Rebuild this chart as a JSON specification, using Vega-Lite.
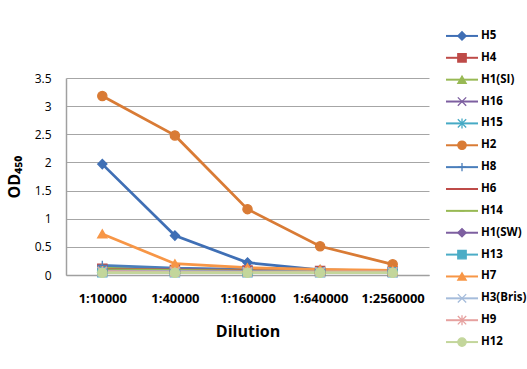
{
  "$schema": "https://vega.github.io/schema/vega-lite/v6.json",
  "background": "white",
  "padding": {"left": 6, "top": 25, "right": 0, "bottom": 0},
  "spacing": 16,
  "config": {"view": {"stroke": null}, "font": "Open Sans"},
  "datasets": {
    "od": [
      {"series": "H5", "dilution": "1:10000", "od": 1.97},
      {"series": "H5", "dilution": "1:40000", "od": 0.70},
      {"series": "H5", "dilution": "1:160000", "od": 0.22},
      {"series": "H5", "dilution": "1:640000", "od": 0.09},
      {"series": "H5", "dilution": "1:2560000", "od": 0.07},
      {"series": "H4", "dilution": "1:10000", "od": 0.11},
      {"series": "H4", "dilution": "1:40000", "od": 0.09},
      {"series": "H4", "dilution": "1:160000", "od": 0.08},
      {"series": "H4", "dilution": "1:640000", "od": 0.07},
      {"series": "H4", "dilution": "1:2560000", "od": 0.06},
      {"series": "H1(SI)", "dilution": "1:10000", "od": 0.12},
      {"series": "H1(SI)", "dilution": "1:40000", "od": 0.10},
      {"series": "H1(SI)", "dilution": "1:160000", "od": 0.09},
      {"series": "H1(SI)", "dilution": "1:640000", "od": 0.08},
      {"series": "H1(SI)", "dilution": "1:2560000", "od": 0.07},
      {"series": "H16", "dilution": "1:10000", "od": 0.09},
      {"series": "H16", "dilution": "1:40000", "od": 0.08},
      {"series": "H16", "dilution": "1:160000", "od": 0.07},
      {"series": "H16", "dilution": "1:640000", "od": 0.06},
      {"series": "H16", "dilution": "1:2560000", "od": 0.06},
      {"series": "H15", "dilution": "1:10000", "od": 0.08},
      {"series": "H15", "dilution": "1:40000", "od": 0.07},
      {"series": "H15", "dilution": "1:160000", "od": 0.06},
      {"series": "H15", "dilution": "1:640000", "od": 0.06},
      {"series": "H15", "dilution": "1:2560000", "od": 0.05},
      {"series": "H2", "dilution": "1:10000", "od": 3.18},
      {"series": "H2", "dilution": "1:40000", "od": 2.48},
      {"series": "H2", "dilution": "1:160000", "od": 1.17},
      {"series": "H2", "dilution": "1:640000", "od": 0.51},
      {"series": "H2", "dilution": "1:2560000", "od": 0.19},
      {"series": "H8", "dilution": "1:10000", "od": 0.17},
      {"series": "H8", "dilution": "1:40000", "od": 0.12},
      {"series": "H8", "dilution": "1:160000", "od": 0.10},
      {"series": "H8", "dilution": "1:640000", "od": 0.08},
      {"series": "H8", "dilution": "1:2560000", "od": 0.07},
      {"series": "H6", "dilution": "1:10000", "od": 0.10},
      {"series": "H6", "dilution": "1:40000", "od": 0.09},
      {"series": "H6", "dilution": "1:160000", "od": 0.08},
      {"series": "H6", "dilution": "1:640000", "od": 0.07},
      {"series": "H6", "dilution": "1:2560000", "od": 0.06},
      {"series": "H14", "dilution": "1:10000", "od": 0.09},
      {"series": "H14", "dilution": "1:40000", "od": 0.08},
      {"series": "H14", "dilution": "1:160000", "od": 0.07},
      {"series": "H14", "dilution": "1:640000", "od": 0.07},
      {"series": "H14", "dilution": "1:2560000", "od": 0.06},
      {"series": "H1(SW)", "dilution": "1:10000", "od": 0.07},
      {"series": "H1(SW)", "dilution": "1:40000", "od": 0.06},
      {"series": "H1(SW)", "dilution": "1:160000", "od": 0.06},
      {"series": "H1(SW)", "dilution": "1:640000", "od": 0.05},
      {"series": "H1(SW)", "dilution": "1:2560000", "od": 0.05},
      {"series": "H13", "dilution": "1:10000", "od": 0.05},
      {"series": "H13", "dilution": "1:40000", "od": 0.05},
      {"series": "H13", "dilution": "1:160000", "od": 0.05},
      {"series": "H13", "dilution": "1:640000", "od": 0.05},
      {"series": "H13", "dilution": "1:2560000", "od": 0.05},
      {"series": "H7", "dilution": "1:10000", "od": 0.73},
      {"series": "H7", "dilution": "1:40000", "od": 0.20},
      {"series": "H7", "dilution": "1:160000", "od": 0.13},
      {"series": "H7", "dilution": "1:640000", "od": 0.10},
      {"series": "H7", "dilution": "1:2560000", "od": 0.08},
      {"series": "H3(Bris)", "dilution": "1:10000", "od": 0.06},
      {"series": "H3(Bris)", "dilution": "1:40000", "od": 0.06},
      {"series": "H3(Bris)", "dilution": "1:160000", "od": 0.05},
      {"series": "H3(Bris)", "dilution": "1:640000", "od": 0.05},
      {"series": "H3(Bris)", "dilution": "1:2560000", "od": 0.05},
      {"series": "H9", "dilution": "1:10000", "od": 0.06},
      {"series": "H9", "dilution": "1:40000", "od": 0.05},
      {"series": "H9", "dilution": "1:160000", "od": 0.05},
      {"series": "H9", "dilution": "1:640000", "od": 0.05},
      {"series": "H9", "dilution": "1:2560000", "od": 0.05},
      {"series": "H12", "dilution": "1:10000", "od": 0.04},
      {"series": "H12", "dilution": "1:40000", "od": 0.04},
      {"series": "H12", "dilution": "1:160000", "od": 0.04},
      {"series": "H12", "dilution": "1:640000", "od": 0.04},
      {"series": "H12", "dilution": "1:2560000", "od": 0.04}
    ],
    "series": [
      {"series": "H5"}, {"series": "H4"}, {"series": "H1(SI)"}, {"series": "H16"}, {"series": "H15"},
      {"series": "H2"}, {"series": "H8"}, {"series": "H6"}, {"series": "H14"}, {"series": "H1(SW)"},
      {"series": "H13"}, {"series": "H7"}, {"series": "H3(Bris)"}, {"series": "H9"}, {"series": "H12"}
    ],
    "blank": [{"label": ""}]
  },
  "hconcat": [
    {
      "spacing": 0,
      "vconcat": [
        {
          "width": 363,
          "height": 47,
          "data": {"name": "blank"},
          "mark": {"type": "text"},
          "encoding": {"text": {"field": "label"}}
        },
        {
          "width": 363,
          "height": 197,
          "data": {"name": "od"},
          "encoding": {
            "x": {
              "field": "dilution", "type": "ordinal",
              "sort": ["1:10000", "1:40000", "1:160000", "1:640000", "1:2560000"],
              "scale": {"type": "point", "padding": 0.5},
              "axis": {
                "title": "Dilution", "titleFontSize": 16, "titleFontWeight": "bold", "titleColor": "black", "titlePadding": 18,
                "labelAngle": 0, "labelFontSize": 13, "labelFontWeight": "bold", "labelColor": "black", "labelPadding": 17,
                "ticks": false, "grid": false, "domainColor": "#A0A0A0", "domainWidth": 1.5
              }
            },
            "y": {
              "field": "od", "type": "quantitative",
              "scale": {"domain": [0, 3.5], "nice": false, "zero": true},
              "axis": {
                "title": "OD₄₅₀", "titleFontSize": 16, "titleFontWeight": "bold", "titleColor": "black", "titlePadding": 12,
                "values": [0, 0.5, 1, 1.5, 2, 2.5, 3, 3.5], "format": "~g",
                "labelFontSize": 12, "labelColor": "black", "labelPadding": 15,
                "ticks": false, "grid": true, "gridColor": "#A6A6A6", "gridWidth": 1,
                "domainColor": "#A0A0A0", "domainWidth": 1.5
              }
            },
            "color": {
              "field": "series", "type": "nominal", "legend": null,
              "scale": {
                "domain": ["H5", "H4", "H1(SI)", "H16", "H15", "H2", "H8", "H6", "H14", "H1(SW)", "H13", "H7", "H3(Bris)", "H9", "H12"],
                "range": ["#3F6FB5", "#BE4B48", "#98B954", "#7D5FA0", "#46AAC5", "#D97B35", "#4A7EBB", "#BE4B48", "#98B954", "#7D5FA0", "#4BACC6", "#F79646", "#A5BCDB", "#E6A19F", "#C3D69B"]
              }
            }
          },
          "layer": [
            {
              "mark": {"type": "line", "strokeWidth": 2.75},
              "encoding": {"order": {"value": null}}
            },
            {
              "mark": {"type": "point", "filled": true, "size": 85, "strokeWidth": 1.3, "opacity": 1},
              "encoding": {
                "shape": {
                  "field": "series", "type": "nominal", "legend": null,
                  "scale": {
                    "domain": ["H5", "H4", "H1(SI)", "H16", "H15", "H2", "H8", "H6", "H14", "H1(SW)", "H13", "H7", "H3(Bris)", "H9", "H12"],
                    "range": ["diamond", "square", "triangle-up", "M-1,-1L1,1M-1,1L1,-1", "M-1,-1L1,1M-1,1L1,-1M0,-1.2L0,1.2", "circle", "M-1,0L1,0M0,-1L0,1", "M-0.6,0L0.6,0", "M-0.6,0L0.6,0", "diamond", "square", "triangle-up", "M-1,-1L1,1M-1,1L1,-1", "M-1,-1L1,1M-1,1L1,-1M0,-1.2L0,1.2", "circle"]
                  }
                },
                "stroke": {
                  "field": "series", "type": "nominal", "legend": null,
                  "scale": {
                    "domain": ["H5", "H4", "H1(SI)", "H16", "H15", "H2", "H8", "H6", "H14", "H1(SW)", "H13", "H7", "H3(Bris)", "H9", "H12"],
                    "range": ["#3F6FB5", "#BE4B48", "#98B954", "#7D5FA0", "#46AAC5", "#D97B35", "#4A7EBB", "#BE4B48", "#98B954", "#7D5FA0", "#4BACC6", "#F79646", "#A5BCDB", "#E6A19F", "#C3D69B"]
                  }
                }
              }
            }
          ]
        }
      ]
    },
    {
      "width": 80,
      "height": 328,
      "data": {"name": "series"},
      "encoding": {
        "y": {"field": "series", "type": "nominal", "sort": null, "scale": {"type": "point", "padding": 0.5}, "axis": null}
      },
      "layer": [
        {
          "mark": {"type": "rule", "strokeWidth": 2},
          "encoding": {
            "x": {"datum": 0, "type": "quantitative", "scale": {"domain": [0, 80]}, "axis": null},
            "x2": {"datum": 32},
            "color": {
              "field": "series", "type": "nominal", "legend": null,
              "scale": {
                "domain": ["H5", "H4", "H1(SI)", "H16", "H15", "H2", "H8", "H6", "H14", "H1(SW)", "H13", "H7", "H3(Bris)", "H9", "H12"],
                "range": ["#3F6FB5", "#BE4B48", "#98B954", "#7D5FA0", "#46AAC5", "#D97B35", "#4A7EBB", "#BE4B48", "#98B954", "#7D5FA0", "#4BACC6", "#F79646", "#A5BCDB", "#E6A19F", "#C3D69B"]
              }
            }
          }
        },
        {
          "mark": {"type": "point", "filled": true, "size": 70, "strokeWidth": 1.3, "opacity": 1},
          "encoding": {
            "x": {"datum": 16, "type": "quantitative", "scale": {"domain": [0, 80]}, "axis": null},
            "color": {
              "field": "series", "type": "nominal", "legend": null,
              "scale": {
                "domain": ["H5", "H4", "H1(SI)", "H16", "H15", "H2", "H8", "H6", "H14", "H1(SW)", "H13", "H7", "H3(Bris)", "H9", "H12"],
                "range": ["#3F6FB5", "#BE4B48", "#98B954", "#7D5FA0", "#46AAC5", "#D97B35", "#4A7EBB", "#BE4B48", "#98B954", "#7D5FA0", "#4BACC6", "#F79646", "#A5BCDB", "#E6A19F", "#C3D69B"]
              }
            },
            "shape": {
              "field": "series", "type": "nominal", "legend": null,
              "scale": {
                "domain": ["H5", "H4", "H1(SI)", "H16", "H15", "H2", "H8", "H6", "H14", "H1(SW)", "H13", "H7", "H3(Bris)", "H9", "H12"],
                "range": ["diamond", "square", "triangle-up", "M-1,-1L1,1M-1,1L1,-1", "M-1,-1L1,1M-1,1L1,-1M0,-1.2L0,1.2", "circle", "M-1,0L1,0M0,-1L0,1", "M-0.6,0L0.6,0", "M-0.6,0L0.6,0", "diamond", "square", "triangle-up", "M-1,-1L1,1M-1,1L1,-1", "M-1,-1L1,1M-1,1L1,-1M0,-1.2L0,1.2", "circle"]
              }
            },
            "stroke": {
              "field": "series", "type": "nominal", "legend": null,
              "scale": {
                "domain": ["H5", "H4", "H1(SI)", "H16", "H15", "H2", "H8", "H6", "H14", "H1(SW)", "H13", "H7", "H3(Bris)", "H9", "H12"],
                "range": ["#3F6FB5", "#BE4B48", "#98B954", "#7D5FA0", "#46AAC5", "#D97B35", "#4A7EBB", "#BE4B48", "#98B954", "#7D5FA0", "#4BACC6", "#F79646", "#A5BCDB", "#E6A19F", "#C3D69B"]
              }
            }
          }
        },
        {
          "mark": {"type": "text", "align": "left", "baseline": "middle", "fontWeight": "bold", "fontSize": 11.5, "color": "black"},
          "encoding": {
            "x": {"datum": 35, "type": "quantitative", "scale": {"domain": [0, 80]}, "axis": null},
            "text": {"field": "series"}
          }
        }
      ]
    }
  ]
}
